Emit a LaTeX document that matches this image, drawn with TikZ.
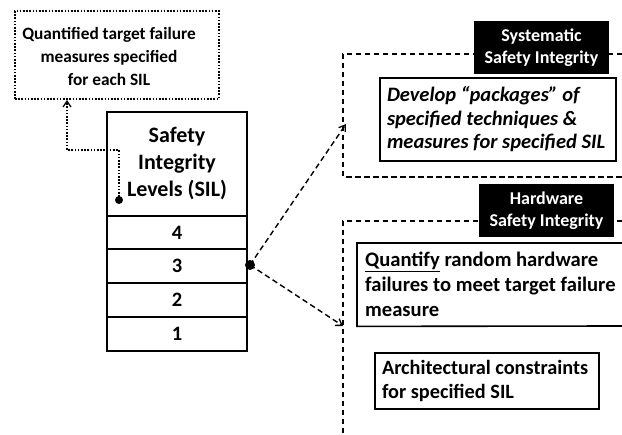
\documentclass[tikz,border=0pt]{standalone}
\usepackage{fontspec}
\setmainfont{Carlito}
\usetikzlibrary{arrows.meta}
\begin{document}
\begin{tikzpicture}[x=1pt,y=-1pt,
  font=\bfseries,
  sildot/.style={circle,fill=black,inner sep=0pt,minimum size=#1},
  silcell/.style={draw,line width=2.2pt,minimum width=140pt,inner sep=0pt},
  levelfont/.style={font=\bfseries\fontsize{20.5}{22}\selectfont},
  dotline/.style={line width=1.8pt,dash pattern=on 1.6pt off 1.6pt},
  dashline/.style={line width=1.4pt,dash pattern=on 5.5pt off 3.5pt},
  blacklabel/.style={fill=black,text=white,minimum width=135pt,minimum height=53pt,
    inner sep=0pt,align=center,font=\bfseries\fontsize{18}{22}\selectfont},
  txtbox/.style={draw,line width=1.6pt,inner xsep=7pt,inner ysep=0pt,align=flush left},
  barb/.style={-{Straight Barb[length=6pt,width=8pt,line width=1.3pt]}}
]
\useasboundingbox (0,0) rectangle (622,435);

% quantified target box
\node[dotline,draw,minimum width=204pt,minimum height=88pt,inner sep=0pt] (target) at (117,55) {};
\node[inner sep=0pt,align=center,font=\bfseries\fontsize{17.3}{23}\selectfont] (targettext) at (109,56)
  {Quantified target failure\\measures specified\\for each SIL};

% SIL table
\node[silcell,minimum height=104pt,align=center,
  font=\bfseries\fontsize{22}{27}\selectfont] (sil) at (177,164)
  {Safety\\Integrity\\Levels (SIL)};
\node[silcell,minimum height=33pt,levelfont] (l4) at (177,232.5) {4};
\node[silcell,minimum height=34pt,levelfont] (l3) at (177,266) {3};
\node[silcell,minimum height=34pt,levelfont] (l2) at (177,300) {2};
\node[silcell,minimum height=34pt,levelfont] (l1) at (177,334) {1};

% dots
\node[sildot=8pt] (d1) at (119,200) {};
\node[sildot=10pt] (d2) at (250,265) {};

% dotted connector to the target box
\coordinate (bend) at (67,150);
\draw[dotline,barb] (d1.center) -- (119,150) -- (bend) -- (target.south -| bend);

% systematic frame
\draw[dashline] (622,54) -- (343,54) -- (343,177) -- (622,177);
\coordinate (sysin) at (346,124);
\node[blacklabel] (syslab) at (541.5,47.5) {Systematic\\Safety Integrity};
\node[txtbox,minimum height=83pt,text width=222pt,
  font=\bfseries\itshape\fontsize{20.5}{23.5}\selectfont] (dev) at (498,119.5)
  {Develop “packages” of\\specified techniques \&\\measures for specified SIL};

% hardware frame
\draw[dashline] (622,221) -- (343,221) -- (343,435);
\coordinate (hwin) at (343,326);
\node[blacklabel] (hwlab) at (546.5,210.5) {Hardware\\Safety Integrity};
\node[inner xsep=8pt,inner ysep=0pt,minimum height=83pt,anchor=north west,align=flush left,
  font=\bfseries\fontsize{20.6}{25}\selectfont] (quant) at (357,243)
  {\underline{Quantify} random hardware\\failures to meet target failure\\measure};
\draw[line width=1.6pt] (622,243) -- (quant.north west) -- (quant.south west) -- (622,326);
\node[txtbox,minimum height=56pt,text width=210pt,
  font=\bfseries\fontsize{20.3}{23.5}\selectfont] (arch) at (487,381)
  {Architectural constraints\\for specified SIL};

% dashed connectors from level 3
\draw[dashline,barb] (d2.center) -- (sysin);
\draw[dashline,barb] (d2.center) -- (hwin);
\end{tikzpicture}
\end{document}
